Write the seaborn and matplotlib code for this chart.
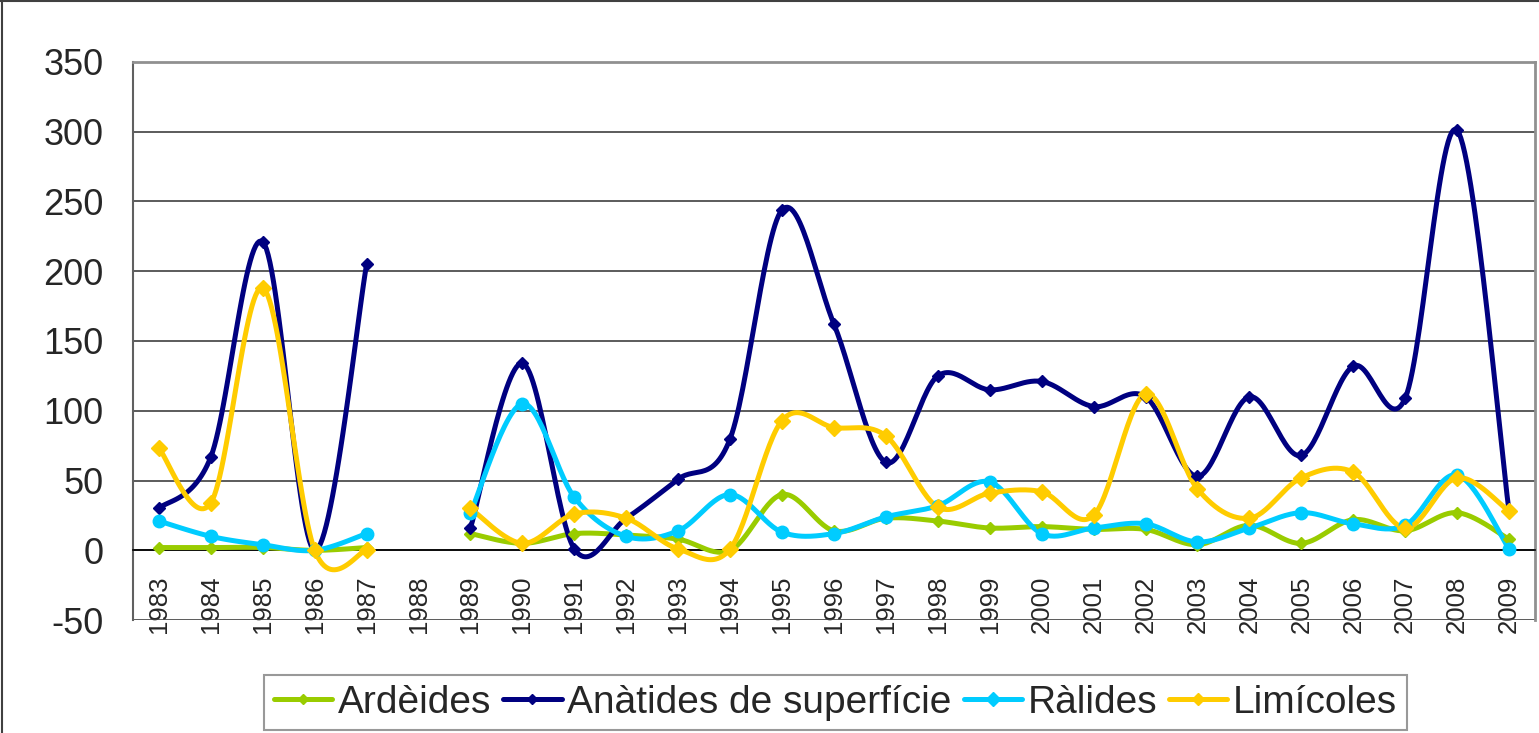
import numpy as np
import pandas as pd
import seaborn as sns
import matplotlib.pyplot as plt
from matplotlib.lines import Line2D

years = [str(y) for y in range(1983, 2010)]
nan = np.nan

ardeides = [2, 2, 2, 0, 2, nan, 12, 5, 12, 11, 8, 0, 40, 14, 23, 21, 16, 17, 15, 15, 4, 18, 5, 22, 14, 27, 8]
anatides = [30, 67, 221, 0, 205, nan, 16, 134, 1, 23, 51, 80, 244, 162, 63, 125, 115, 121, 103, 110, 53, 110, 68, 132, 109, 301, 28]
ralides = [21, 10, 4, 0, 12, nan, 27, 105, 38, 10, 14, 40, 13, 12, 24, 32, 49, 12, 16, 19, 6, 16, 27, 19, 18, 54, 1]
limicoles = [73, 34, 188, 0, 0, nan, 30, 5, 26, 23, 1, 1, 93, 88, 82, 31, 41, 42, 25, 112, 44, 23, 52, 56, 16, 52, 28]

series_names = ["Ardèides", "Anàtides de superfície", "Ràlides", "Limícoles"]
series_vals = [ardeides, anatides, ralides, limicoles]
colors = ["#99CC00", "#000080", "#00CCFF", "#FFCC00"]
markers = ["D", "D", "o", "D"]
msizes = [6, 6, 9, 8]


def smooth(x, y, n=30):
    # Catmull-Rom style bezier, like Excel's smoothed line
    x = np.asarray(x, float)
    y = np.asarray(y, float)
    px = np.concatenate([[x[0]], x, [x[-1]]])
    py = np.concatenate([[y[0]], y, [y[-1]]])
    xs, ys = [], []
    t = np.linspace(0, 1, n)
    for i in range(1, len(px) - 2):
        p0x, p1x, p2x, p3x = px[i - 1], px[i], px[i + 1], px[i + 2]
        p0y, p1y, p2y, p3y = py[i - 1], py[i], py[i + 1], py[i + 2]
        b1x, b1y = p1x + (p2x - p0x) / 6, p1y + (p2y - p0y) / 6
        b2x, b2y = p2x - (p3x - p1x) / 6, p2y - (p3y - p1y) / 6
        bx = (1 - t) ** 3 * p1x + 3 * (1 - t) ** 2 * t * b1x + 3 * (1 - t) * t ** 2 * b2x + t ** 3 * p2x
        by = (1 - t) ** 3 * p1y + 3 * (1 - t) ** 2 * t * b1y + 3 * (1 - t) * t ** 2 * b2y + t ** 3 * p2y
        xs.extend(bx[:-1] if i < len(px) - 3 else bx)
        ys.extend(by[:-1] if i < len(px) - 3 else by)
    return np.array(xs), np.array(ys)


def segments(vals):
    v = np.asarray(vals, float)
    ok = ~np.isnan(v)
    segs, cur = [], []
    for i in range(len(v)):
        if ok[i]:
            cur.append(i)
        elif cur:
            segs.append(cur)
            cur = []
    if cur:
        segs.append(cur)
    return [(np.array(s), v[s]) for s in segs]


sns.set_style("white")
plt.rcParams['font.family'] = ['Liberation Sans', 'DejaVu Sans']
plt.rcParams['axes.unicode_minus'] = False

fig = plt.figure(figsize=(15.39, 7.33), dpi=100)
ax = fig.add_axes([0.0864, 0.154, 0.9110, 0.7616])

for name, vals, c, m, ms in zip(series_names, series_vals, colors, markers, msizes):
    for sx, sy in segments(vals):
        cx, cy = smooth(sx, sy)
        df = pd.DataFrame({"x": cx, "y": cy})
        sns.lineplot(data=df, x="x", y="y", sort=False, estimator=None, color=c,
                     linewidth=3.6, ax=ax, zorder=3)
        ax.plot(sx, sy, linestyle="none", marker=m, markersize=ms, color=c, zorder=4)

ax.set_xlim(-0.5, len(years) - 0.5)
ax.set_ylim(-50, 350)
ax.set_yticks(range(-50, 351, 50))
ax.set_xticks(range(len(years)))
ax.set_xticklabels(years)
ax.set_xticks(np.arange(-0.5, len(years), 1), minor=True)
ax.tick_params(axis="x", which="major", length=0, pad=18, labelrotation=90, labelsize=18.5)
ax.tick_params(axis="x", which="minor", length=7, width=1.2, color="#404040", direction="out")
ax.tick_params(axis="y", labelsize=26, length=7, width=1.2, color="#404040", direction="out", pad=14)
ax.set_xlabel("")
ax.set_ylabel("")

ax.grid(axis="y", color="#404040", linewidth=1.2)
ax.set_axisbelow(True)
ax.spines["bottom"].set_position(("data", 0))
ax.spines["bottom"].set_color("black")
ax.spines["bottom"].set_linewidth(1.2)
ax.spines["left"].set_color("#606060")
ax.spines["left"].set_linewidth(1.5)
for s in ["top", "right"]:
    ax.spines[s].set_color("#909090")
    ax.spines[s].set_linewidth(2)
    ax.spines[s].set_visible(True)

# chart area border (left and top edges visible in the crop)
fig.add_artist(Line2D([0.001, 0.001], [0, 1], transform=fig.transFigure, color="#404040", linewidth=1.5))
fig.add_artist(Line2D([0, 1], [0.999, 0.999], transform=fig.transFigure, color="#404040", linewidth=1.5))

handles = [Line2D([0], [0], color=c, linewidth=3.6, marker="D", markersize=ms * 0.8)
           for c, ms in zip(colors, msizes)]
leg = fig.legend(handles, series_names, loc="center", bbox_to_anchor=(0.543, 0.0415), ncol=4,
                 fontsize=28, frameon=True, fancybox=False, handlelength=1.5,
                 handletextpad=0.15, columnspacing=0.3, borderpad=0.25, borderaxespad=0)
leg.get_frame().set_edgecolor("#808080")
leg.get_frame().set_linewidth(1.5)

fig.savefig("out.png", dpi=100)
